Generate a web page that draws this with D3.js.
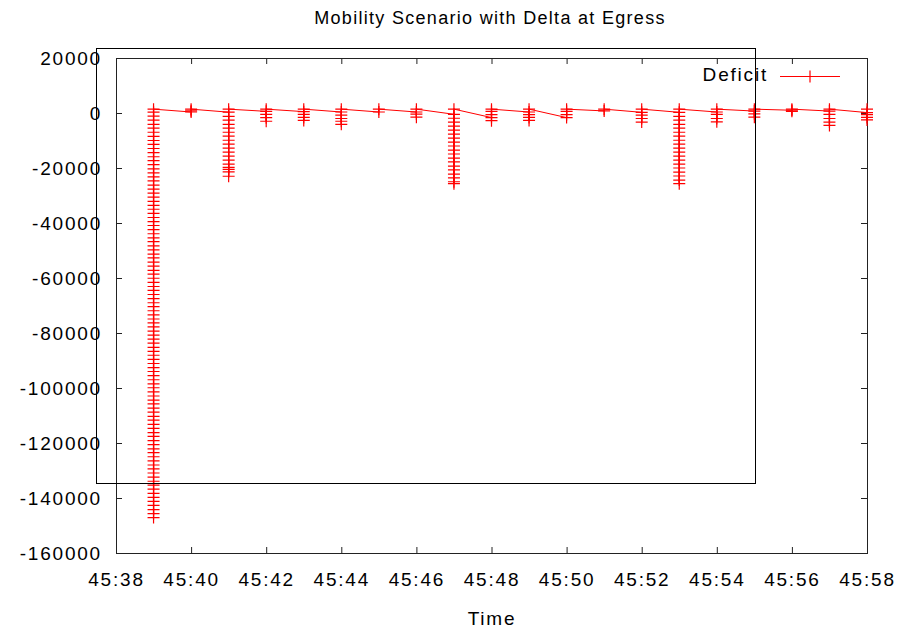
<!DOCTYPE html>
<html>
<head>
<meta charset="utf-8">
<script src="https://cdn.jsdelivr.net/npm/d3@7"></script>
<style>
  html, body { margin: 0; padding: 0; background: #fff; }
  svg { display: block; }
  text { font-family: "Liberation Sans", Arial, sans-serif; fill: #000; }
</style>
</head>
<body>
<svg id="chart" width="900" height="628"></svg>
<script>
// ---- data ----
const chartTitle = "Mobility Scenario with Delta at Egress";
const xLabel = "Time";
const seriesName = "Deficit";
const minuteOfHour = 45;
const xTickSeconds = [38, 40, 42, 44, 46, 48, 50, 52, 54, 56, 58];
const yTicks = [20000, 0, -20000, -40000, -60000, -80000, -100000, -120000, -140000, -160000];
const seconds = [39, 40, 41, 42, 43, 44, 45, 46, 47, 48, 49, 50, 51, 52, 53, 54, 55, 56, 57, 58];

const sec39 = [300, -1100, -2600, -4100, -5500, -7000, -8500, -10000, -11400, -12900, -14400, -15900, -17300, -18800,
  -20300, -21800, -23200, -24700, -26200, -27700, -29100, -30600, -32100, -33600, -35000, -36500, -38000, -39500,
  -40900, -42400, -43900, -45400, -46800, -48300, -49800, -51300, -52700, -54200, -55700, -57200, -58600, -60100,
  -61600, -63100, -64500, -66000, -67500, -69000, -70400, -71900, -73400, -74900, -76300, -77800, -79300, -80800,
  -82200, -83700, -85200, -86700, -88100, -89600, -91100, -92600, -94000, -95500, -97000, -98500, -99900, -101400,
  -102900, -104400, -105800, -107300, -108800, -110300, -111700, -113200, -114700, -116200, -117600, -119100,
  -120600, -122100, -123500, -125000, -126500, -128000, -129400, -130900, -132400, -133900, -135300, -136800,
  -138300, -139800, -141200, -142700, -144200, -145700, -147100, 1400];
const sec40 = [360, 800, 1400];
const sec41 = [300, -1200, -2600, -4100, -5500, -7000, -8400, -9900, -11300, -12800, -14200, -15700, -17100, -18600,
  -19800, -20500, -21400, -23000, 1400];
const sec42 = [600, -500, -1700, -3000, 1400];
const sec43 = [500, -500, -1600, -2700, 1400];
const sec44 = [360, -800, -2000, -3000, -4100, 1400];
const sec45 = [360, 1400];
const sec46 = [360, -400, -1500, 1400];
const sec47 = [-470, -1900, -3300, -4800, -6200, -7700, -9100, -10600, -12000, -13500, -14900, -16400, -17800,
  -19300, -20700, -22200, -23600, -25000, -25700, 1400];
const sec48 = [-1670, -600, -2800, 600, 1400];
const sec49 = [360, -600, -1600, -2700, 1400];
const sec50 = [-1670, -600, 600, 1400];
const sec51 = [760, 1400];
const sec52 = [250, -800, -2000, -3300, 1400];
const sec53 = [250, -1200, -2600, -4100, -5500, -7000, -8400, -9900, -11300, -12800, -14200, -15700, -17100,
  -18600, -20000, -21500, -22900, -24400, -25700, 1400];
const sec54 = [360, -500, -2000, -3200, 1400];
const sec55 = [700, -300, -1500, 1400];
const sec56 = [1000, 600, 1400];
const sec57 = [700, -500, -2000, -3300, -4500, 1400];
const sec58 = [150, -600, -1600, -2500, 1400];
const clusters = [sec39, sec40, sec41, sec42, sec43, sec44, sec45, sec46, sec47, sec48, sec49, sec50,
  sec51, sec52, sec53, sec54, sec55, sec56, sec57, sec58];

// ---- layout ----
const svg = d3.select("#chart");
const plot = { left: 116, right: 867, top: 58, bottom: 553 };
const toDate = s => new Date(2000, 0, 1, 0, minuteOfHour, s);
const FONT = "19px";
const SPACING = "1.8px";

const x = d3.scaleTime()
  .domain([toDate(xTickSeconds[0]), toDate(xTickSeconds[xTickSeconds.length - 1])])
  .range([plot.left, plot.right]);
const y = d3.scaleLinear().domain([-160000, 20000]).range([plot.bottom, plot.top]);

const points = [];
seconds.forEach((s, i) => clusters[i].forEach(v => points.push({ t: toDate(s), v })));

const tickFont = g => g.selectAll("text")
  .style("font-size", FONT)
  .style("letter-spacing", SPACING)
  .style("font-family", "'Liberation Sans', Arial, sans-serif")
  .attr("fill", "#000");
const styleAxis = g => {
  g.select(".domain").remove();
  g.selectAll("line").attr("stroke", "#222");
};

const xTickDates = xTickSeconds.map(toDate);

// bottom axis
svg.append("g").attr("transform", `translate(0,${plot.bottom})`)
  .call(d3.axisBottom(x).tickValues(xTickDates).tickFormat(d3.timeFormat("%M:%S"))
    .tickSizeInner(-6).tickSizeOuter(0).tickPadding(20))
  .call(styleAxis).call(tickFont);
// top axis (ticks only)
svg.append("g").attr("transform", `translate(0,${plot.top})`)
  .call(d3.axisTop(x).tickValues(xTickDates).tickFormat("").tickSizeInner(-6).tickSizeOuter(0))
  .call(styleAxis);
// left axis
svg.append("g").attr("transform", `translate(${plot.left},0)`)
  .call(d3.axisLeft(y).tickValues(yTicks).tickFormat(d => String(d))
    .tickSizeInner(-6).tickSizeOuter(0).tickPadding(14))
  .call(styleAxis).call(tickFont);
// right axis (ticks only)
svg.append("g").attr("transform", `translate(${plot.right},0)`)
  .call(d3.axisRight(y).tickValues(yTicks).tickFormat("").tickSizeInner(-6).tickSizeOuter(0))
  .call(styleAxis);

// frame
svg.append("rect")
  .attr("x", plot.left + 0.5).attr("y", plot.top + 0.5)
  .attr("width", plot.right - plot.left).attr("height", plot.bottom - plot.top)
  .attr("fill", "none").attr("stroke", "#222").attr("stroke-width", 1);

// series line
svg.append("path").datum(points)
  .attr("d", d3.line().x(d => x(d.t)).y(d => y(d.v)))
  .attr("fill", "none").attr("stroke", "#ff0000").attr("stroke-width", 1);

// markers
const plusPath = "M-6,0H6M0,-6V6";
svg.append("g").selectAll("path").data(points).join("path")
  .attr("transform", d => `translate(${x(d.t)},${y(d.v)})`)
  .attr("d", plusPath)
  .attr("fill", "none").attr("stroke", "#ff0000").attr("stroke-width", 1.2);

// legend
svg.append("text").attr("x", 768).attr("y", 81).attr("text-anchor", "end")
  .style("font-size", FONT).style("letter-spacing", SPACING).text(seriesName);
svg.append("line").attr("x1", 780).attr("x2", 840).attr("y1", 76.5).attr("y2", 76.5)
  .attr("stroke", "#ff0000").attr("stroke-width", 1);
svg.append("path").attr("transform", "translate(810,76.5)").attr("d", plusPath)
  .attr("fill", "none").attr("stroke", "#ff0000").attr("stroke-width", 1.2);

// stray offset border (present in the reference)
svg.append("rect").attr("x", 96.5).attr("y", 48.5).attr("width", 659).attr("height", 435)
  .attr("fill", "none").attr("stroke", "#000").attr("stroke-width", 1);

// title and axis label
svg.append("text").attr("x", 490).attr("y", 24).attr("text-anchor", "middle")
  .style("font-size", "18px").style("letter-spacing", "1.3px").text(chartTitle);
svg.append("text").attr("x", 492).attr("y", 625).attr("text-anchor", "middle")
  .style("font-size", FONT).style("letter-spacing", SPACING).text(xLabel);
</script>
</body>
</html>
